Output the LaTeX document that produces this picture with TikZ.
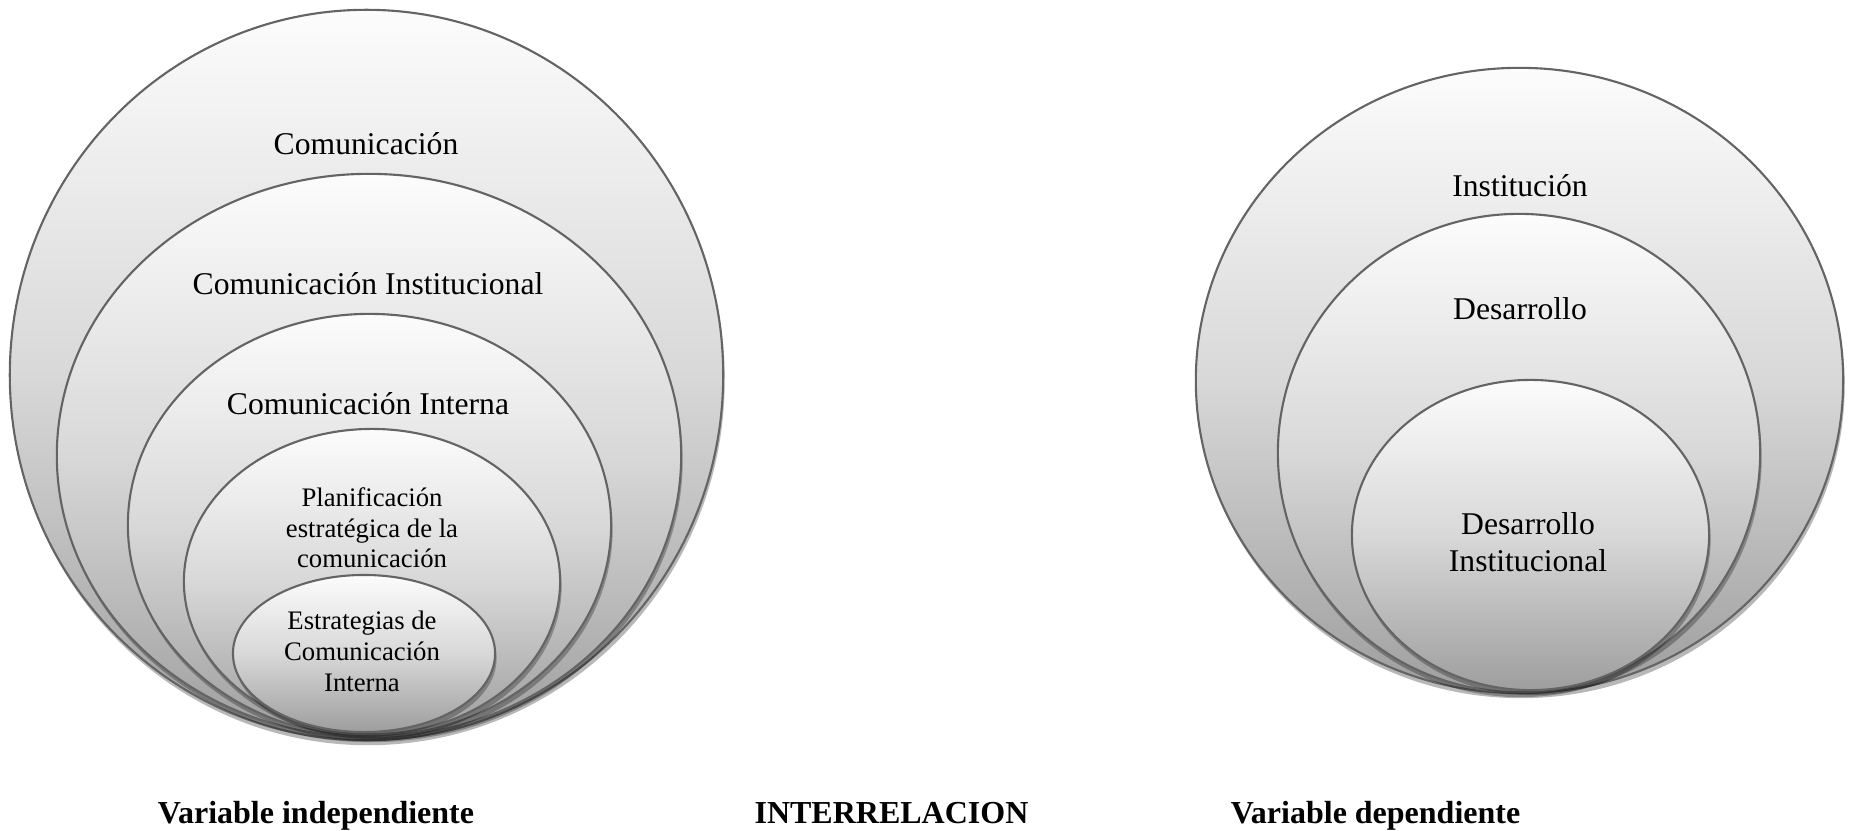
\documentclass[tikz,border=0pt]{standalone}
\usepackage{fontspec}
\setmainfont{Liberation Serif}
\usetikzlibrary{shadows}
\definecolor{ringline}{RGB}{100,100,100}
\definecolor{ringtop}{RGB}{252,252,252}
\definecolor{ringmid}{RGB}{216,216,216}
\definecolor{ringbot}{RGB}{158,158,158}
\begin{document}
\begin{tikzpicture}[x=0.01cm,y=-0.01cm,
  ring/.style={draw=ringline, line width=0.6pt,
    top color=ringtop, bottom color=ringbot, middle color=ringmid,
    drop shadow={shadow xshift=0.015cm, shadow yshift=-0.05cm, fill=black, opacity=0.28}},
  big/.style={font=\fontsize{9}{10.4}\selectfont, anchor=base, inner sep=0pt},
  small/.style={font=\fontsize{7.6}{8.7}\selectfont, anchor=base, inner sep=0pt},
  lab/.style={font=\bfseries\fontsize{9.1}{11}\selectfont, anchor=base, inner sep=0pt}]
\useasboundingbox (0,0) rectangle (1849,830);

% left set
\path[ring] (366.5,375) ellipse [x radius=3.565cm, y radius=3.65cm];
\path[ring] (369,455.5) ellipse [x radius=3.12cm, y radius=2.815cm];
\path[ring] (369.5,525) ellipse [x radius=2.415cm, y radius=2.11cm];
\path[ring] (372,581.5) ellipse [x radius=1.88cm, y radius=1.525cm];
\path[ring] (364,653.5) ellipse [x radius=1.31cm, y radius=0.785cm];

\node[big] (c1) at (366,154) {Comunicación};
\node[big] (c2) at (368,294) {Comunicación Institucional};
\node[big] (c3) at (368,414) {Comunicación Interna};
\node[small] (p1) at (372,506) {Planificación};
\node[small] (p2) at (372,537) {estratégica de la};
\node[small] (p3) at (372,567) {comunicación};
\node[small] (e1) at (362,629) {Estrategias de};
\node[small] (e2) at (362,660) {Comunicación};
\node[small] (e3) at (362,691) {Interna};

% right set
\path[ring] (1519.5,380.5) ellipse [x radius=3.235cm, y radius=3.125cm];
\path[ring] (1519,453) ellipse [x radius=2.41cm, y radius=2.39cm];
\path[ring] (1530.5,535) ellipse [x radius=1.785cm, y radius=1.55cm];

\node[big] (i1) at (1520,196) {Institución};
\node[big] (d1) at (1520,319) {Desarrollo};
\node[big] (d2) at (1528,534) {Desarrollo};
\node[big] (d3) at (1528,571) {Institucional};

% labels
\node[lab] (vi) at (316,823) {Variable independiente};
\node[lab] (inter) at (891.5,823) {INTERRELACION};
\node[lab] (vd) at (1375.5,823) {Variable dependiente};
\end{tikzpicture}
\end{document}
